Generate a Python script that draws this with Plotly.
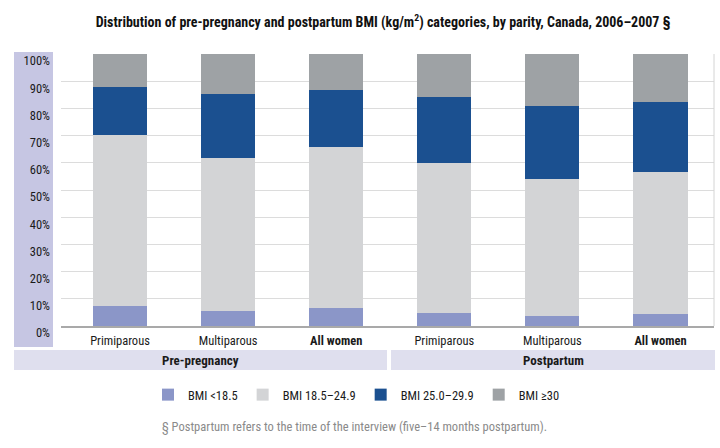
import plotly.graph_objects as go

# ---- data ----
categories = ["Primiparous", "Multiparous", "All women", "Primiparous", "Multiparous", "All women"]
groups = ["Pre-pregnancy", "Postpartum"]
bmi_under = [7.3, 5.5, 6.7, 4.9, 3.7, 4.3]        # BMI <18.5
bmi_normal = [62.9, 56.1, 59.0, 55.0, 50.5, 52.3]  # BMI 18.5–24.9
bmi_over = [17.8, 23.8, 21.1, 24.3, 26.7, 25.6]    # BMI 25.0–29.9
bmi_obese = [12.0, 14.6, 13.2, 15.8, 19.1, 17.8]   # BMI ≥30
series_names = ["BMI <18.5", "BMI 18.5–24.9", "BMI 25.0–29.9", "BMI ≥30"]
y_ticks = [0, 10, 20, 30, 40, 50, 60, 70, 80, 90, 100]

colors = ["#8b96c8", "#d3d4d6", "#1b5090", "#9ea2a5"]
FONT = "Liberation Sans Narrow, Arial Narrow, Roboto Condensed, DejaVu Sans Condensed, sans-serif"

x = list(range(len(categories)))
ticktext = [f"<b>{c}</b>" if c == "All women" else c for c in categories]

fig = go.Figure()
for name, vals, col in zip(series_names, [bmi_under, bmi_normal, bmi_over, bmi_obese], colors):
    fig.add_trace(go.Bar(x=x, y=vals, name=name, marker=dict(color=col, line=dict(width=0)),
                         width=0.5))

W, H = 720, 448
L, R, T, B = 61, 6, 54, 122
pw = W - L - R
ph = H - T - B

def px_x(p):
    return (p - L) / pw

def px_y(p):
    return (H - B - p) / ph

shapes = [
    # y label band
    dict(type="rect", xref="paper", yref="paper", x0=px_x(14), x1=px_x(53), y0=px_y(347), y1=px_y(52),
         fillcolor="#c6c6e3", line=dict(width=0), layer="below"),
    # group bands
    dict(type="rect", xref="paper", yref="paper", x0=px_x(14), x1=px_x(387), y0=px_y(370), y1=px_y(350),
         fillcolor="#dfdfee", line=dict(width=0), layer="below"),
    dict(type="rect", xref="paper", yref="paper", x0=px_x(391), x1=px_x(715), y0=px_y(370), y1=px_y(350),
         fillcolor="#dfdfee", line=dict(width=0), layer="below"),
    # right border
    dict(type="line", xref="paper", yref="paper", x0=1, x1=1, y0=0, y1=1,
         line=dict(color="#d4d4d4", width=1)),
]

annotations = [
    dict(text="<b>Pre-pregnancy</b>", xref="paper", yref="paper", x=px_x(200.5), y=px_y(360),
         showarrow=False, font=dict(family=FONT, size=13, color="#1a1a1a"), xanchor="center", yanchor="middle"),
    dict(text="<b>Postpartum</b>", xref="paper", yref="paper", x=px_x(553), y=px_y(360),
         showarrow=False, font=dict(family=FONT, size=13, color="#1a1a1a"), xanchor="center", yanchor="middle"),
    dict(text="§ Postpartum refers to the time of the interview (five–14 months postpartum).",
         xref="paper", yref="paper", x=px_x(160), y=px_y(427), showarrow=False,
         font=dict(family=FONT, size=12.5, color="#8a8a8a"), xanchor="left", yanchor="middle"),
]

fig.update_layout(
    width=W, height=H,
    margin=dict(l=L, r=R, t=T, b=B, pad=0),
    paper_bgcolor="white", plot_bgcolor="white",
    barmode="stack",
    bargap=0.5,
    font=dict(family=FONT, size=12, color="#1a1a1a"),
    title=dict(text="<b>Distribution of pre-pregnancy and postpartum BMI (kg/m<sup>2</sup>) categories, by parity, Canada, 2006–2007 §</b>",
               x=0.532, xanchor="center", y=1 - 22 / H, yanchor="middle",
               font=dict(family=FONT, size=14, color="#111111")),
    xaxis=dict(tickmode="array", tickvals=x, ticktext=ticktext, range=[-0.546, 5.495],
               showgrid=False, showline=True, linecolor="#a9a9a9", linewidth=2, ticks="",
               tickfont=dict(family=FONT, size=12.5, color="#1a1a1a"), ticklabelstandoff=2,
               zeroline=False, fixedrange=True),
    yaxis=dict(range=[0, 100], tickmode="array", tickvals=y_ticks,
               ticktext=[f"{v}%" for v in y_ticks], showgrid=True, gridcolor="#dcdcdc", gridwidth=1,
               zeroline=False, ticks="", tickfont=dict(family=FONT, size=12.5, color="#1a1a1a"),
               ticklabelstandoff=10, ticklabelshift=7, fixedrange=True),
    legend=dict(orientation="h", x=px_x(148), xanchor="left", y=px_y(380), yanchor="top",
                font=dict(family=FONT, size=12.5, color="#1a1a1a"), traceorder="normal",
                bgcolor="rgba(0,0,0,0)"),
    shapes=shapes,
    annotations=annotations,
    showlegend=True,
)

fig.write_html("out.html")
